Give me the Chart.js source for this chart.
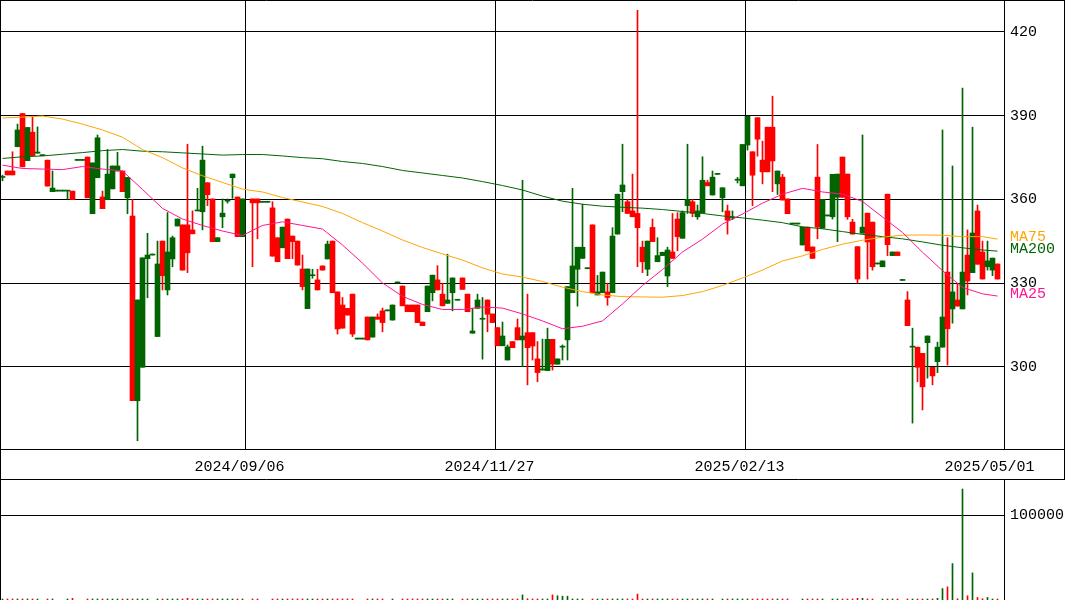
<!DOCTYPE html>
<html>
<head>
<meta charset="utf-8">
<script src="https://cdn.jsdelivr.net/npm/chart.js@4.4.1/dist/chart.umd.min.js"></script>
<style>
  html, body { margin: 0; padding: 0; background: #fff; }
  #wrap { position: relative; width: 1065px; height: 600px; overflow: hidden; background: #fff; }
  #price { position: absolute; left: 0; top: 0; width: 1065px; height: 480px; }
  #vol { position: absolute; left: 0; top: 480px; width: 1065px; height: 120px; }
</style>
</head>
<body>
<div id="wrap">
  <canvas id="price" width="1065" height="480"></canvas>
  <canvas id="vol" width="1065" height="120"></canvas>
</div>
<script>
// Daily candles, oldest first (index = trading-day slot). null = no bar.
const opens = [
  367.9,370.2,370.2,378.9,390.8,373.9,384.1,376.6,375.7,374.1, 362.8,363.0,363.0,363.0,363.0,374.0,374.0,375.2,354.9,367.8,
  360.9,360.0,363.8,370.2,370.2,360.6,354.1,287.9,299.9,338.8, 340.1,310.9,345.1,327.6,338.7,350.5,350.9,350.9,349.1,355.9,
  355.6,366.0,360.2,344.9,353.8,359.4,367.8,360.9,346.7,null, 360.2,360.2,359.0,359.0,357.0,346.3,342.7,353.0,346.9,345.1,
  335.1,320.9,332.7,331.2,336.2,338.7,345.1,326.9,322.2,321.0, 326.1,310.0,310.0,317.9,310.7,317.9,320.1,320.1,316.8,330.1,
  329.0,322.2,322.2,322.2,316.1,319.8,326.6,331.2,326.1,322.8, 326.6,323.9,331.9,326.1,312.1,321.0,317.1,324.0,319.0,314.1,
  307.6,302.5,309.1,314.1,309.7,312.3,312.3,302.9,298.9,298.7, 309.9,301.0,307.1,309.7,326.6,335.0,338.9,335.2,350.9,325.8,
  326.6,326.9,326.6,347.6,362.8,359.2,355.9,355.0,342.9,335.0, 350.0,337.7,339.9,332.6,341.2,353.0,346.1,357.8,359.2,353.8,
  355.2,366.1,361.6,369.0,360.6,355.9,353.4,366.9,364.9,379.5, 377.1,389.3,374.1,385.9,385.9,365.6,368.0,360.2,351.2,351.2,
  343.7,350.1,343.0,368.0,349.7,354.1,353.8,360.8,375.2,369.1, 351.9,343.1,347.9,355.1,351.9,336.9,335.9,361.9,339.9,341.2,
  331.0,324.0,307.1,307.1,304.9,308.7,299.9,301.9,307.1,334.0, 320.8,324.0,320.8,340.1,333.8,355.9,341.2,335.9,334.7,336.9
];
const highs = [
  368.7,370.2,377.1,387.0,390.8,385.8,389.9,386.0,375.7,374.1, 370.2,363.0,363.0,363.0,363.0,374.0,374.0,375.2,373.1,383.1,
  363.0,377.9,372.0,376.9,370.2,367.9,360.0,324.0,339.1,347.9, 340.1,345.1,345.1,355.3,346.9,353.0,350.9,379.8,355.9,364.0,
  379.1,366.0,360.2,346.3,360.2,360.2,369.1,360.9,360.2,null, 360.2,360.2,359.0,359.0,359.2,346.3,350.1,353.0,346.9,345.1,
  340.1,335.1,335.0,335.0,336.2,345.1,345.1,326.9,324.9,321.0, 326.1,310.0,310.0,317.9,317.9,319.0,321.1,320.1,322.2,330.1,
  329.0,322.2,322.2,322.2,316.1,329.0,332.9,336.3,330.0,340.4, 331.9,323.9,331.9,326.1,321.0,326.1,324.9,324.0,319.0,314.1,
  316.1,307.9,309.1,317.2,366.9,326.1,312.3,309.1,310.0,313.9, 309.9,302.9,307.9,328.8,364.0,342.9,358.3,335.2,350.9,332.8,
  334.0,330.0,349.9,361.9,379.8,360.0,369.1,427.8,345.1,345.1, 353.0,346.3,341.1,342.9,355.0,355.3,355.9,379.8,360.0,358.0,
  375.3,366.9,370.2,369.0,364.2,358.0,355.9,367.9,379.7,389.8, 377.1,389.3,380.9,385.9,397.0,370.2,369.0,360.2,351.2,351.2,
  350.1,350.1,343.0,379.7,360.0,354.1,369.0,369.1,375.2,369.1, 352.9,343.1,383.1,355.1,351.9,336.9,338.0,361.9,341.2,341.2,
  331.0,327.0,313.9,307.1,304.9,311.1,299.9,308.9,384.9,346.3, 372.0,330.0,399.9,349.1,385.9,358.0,345.1,345.1,339.0,336.9
];
const lows = [
  366.7,368.8,368.8,378.9,371.7,373.9,375.7,376.6,375.7,364.8, 362.8,363.0,363.0,360.1,360.0,374.0,374.0,360.6,354.9,367.8,
  356.7,360.0,363.8,370.2,362.8,354.9,287.9,273.6,299.9,324.8, 340.1,310.9,327.6,325.8,335.9,350.5,334.7,333.8,347.7,355.9,
  349.1,357.8,344.9,344.9,349.9,358.7,360.4,346.7,346.7,null, 335.9,345.9,359.0,359.0,339.7,337.7,342.7,338.8,338.8,336.5,
  327.6,320.9,331.8,327.6,334.7,338.7,326.6,311.8,313.9,318.6, 310.9,310.0,310.0,309.7,310.7,317.1,312.6,320.1,316.8,330.1,
  321.9,319.8,319.8,315.9,314.8,319.8,323.7,327.6,321.9,322.8, 320.1,323.9,327.8,319.8,312.1,321.0,302.8,312.6,315.9,307.6,
  307.6,302.5,306.9,309.7,300.1,293.6,302.5,294.7,298.9,298.7, 298.9,301.0,302.5,302.5,326.6,321.8,338.9,335.2,326.6,325.8,
  326.6,322.1,326.6,347.6,355.6,355.0,353.8,335.9,333.8,332.7, 344.9,337.7,339.9,328.8,338.9,341.6,346.1,355.0,353.8,352.9,
  355.2,364.9,361.6,369.0,355.6,347.6,352.8,365.9,364.9,377.7, 357.8,375.5,365.6,369.9,362.8,361.8,359.8,354.9,351.2,351.2,
  343.7,341.6,338.9,345.9,349.7,354.1,353.0,344.9,360.8,352.9, 347.6,330.0,347.9,331.5,334.7,336.9,335.9,339.9,339.9,339.9,
  331.0,314.8,279.9,294.7,284.6,296.0,293.6,298.0,307.1,300.7, 315.7,321.8,320.8,325.8,333.8,336.8,331.5,334.7,332.7,331.5
];
const closes = [
  367.9,368.8,368.8,384.9,371.7,385.8,375.7,377.0,375.7,364.8, 364.1,363.0,363.0,363.0,360.0,374.0,374.0,360.6,373.1,382.1,
  356.7,369.1,372.0,372.0,362.8,367.9,287.9,324.0,339.1,340.1, 340.1,336.9,332.7,341.2,346.3,353.0,334.7,340.9,347.7,355.9,
  374.1,361.7,344.9,346.3,355.1,359.4,369.1,346.7,360.2,null, 358.8,358.8,359.0,359.0,339.7,337.7,350.1,338.8,344.9,336.5,
  328.8,335.1,332.7,327.6,334.7,344.0,326.6,313.6,313.9,318.6, 311.8,310.0,310.0,309.7,317.9,317.1,315.9,320.1,322.2,330.1,
  321.9,319.8,319.8,315.9,314.8,329.0,332.9,327.6,321.9,324.0, 331.9,323.9,327.8,319.8,312.9,324.0,317.1,318.9,315.9,307.6,
  311.1,307.2,306.9,309.7,311.1,306.9,307.5,298.0,299.3,309.9, 301.0,302.9,307.1,328.8,336.2,342.9,342.9,335.2,326.6,326.9,
  334.0,324.9,346.9,361.9,365.2,355.0,353.8,349.9,337.7,345.1, 344.9,339.9,341.1,341.9,338.9,346.7,355.3,360.0,355.0,355.9,
  366.9,364.9,368.0,369.0,364.2,352.6,353.4,366.9,379.7,389.8, 368.7,381.6,369.9,369.9,373.8,370.2,359.8,354.9,351.2,351.2,
  350.1,341.6,338.9,350.1,360.0,354.1,369.0,369.1,360.8,353.8, 347.6,331.5,350.1,344.8,335.9,336.9,338.0,343.8,341.2,339.9,
  331.0,314.8,307.1,299.9,292.9,311.1,296.8,307.1,317.9,313.7, 326.9,321.8,334.0,330.8,348.0,336.8,331.5,338.0,339.0,331.5
];
// Daily volume (shares)
const volumes = [
  1200,1200,1200,1200,1200,1200,1200,1200,0,1200, 1200,0,0,1200,2000,0,0,1200,1200,1200,
  1200,1200,1200,1200,1200,1200,1200,1200,1200,1200, 0,1200,1200,1200,1200,1200,1200,2000,1200,1200,
  1200,1200,1200,1200,1200,1200,1200,1200,1200,null, 1200,1200,0,0,1200,1200,1200,1200,1200,1200,
  1200,1200,1200,1200,1200,1200,1200,1200,1200,1200, 1200,0,0,1200,1200,1200,1200,0,1200,0,
  1200,1200,1200,1200,1200,1200,1200,1200,1200,1200, 1200,0,1200,1200,1200,1200,1200,1200,1200,1200,
  1200,1200,1200,1200,6000,1500,1200,1200,1200,1200, 6000,5000,4500,4500,1200,1200,1200,0,1200,1200,
  1200,1200,1200,1200,1200,1200,1200,7000,1200,1200, 1200,1200,1200,1200,1200,1200,1200,1200,1200,1200,
  1200,1200,1200,0,1200,1200,1200,1200,1200,1200, 1200,1200,1200,1200,1200,1200,1200,1200,0,0,
  1200,1200,1200,1200,1200,0,1200,1200,1200,1200, 1200,2000,2000,1200,1200,0,1200,1200,1200,1200,
  0,1200,1200,1200,1200,1200,1200,2000,13500,15500, 43000,1500,131000,5000,32000,3000,1500,3000,1200,1200
];

// Moving averages, sampled every 4 trading days (plus the last day)
const maDays = [
  0,4,8,12,16,20,24,28,32,36, 40,44,48,52,56,60,64,68,72,76,
  80,84,88,92,96,100,104,108,112,116, 120,124,128,132,136,140,144,148,152,156,
  160,164,168,172,176,180,184,188,192,196, 199
];
const ma25 = [
  372.3,371.1,370.9,370.7,371.8,370.9,370.2,363.6,356.8,353.0, 350.7,348.7,347.1,350.7,352.0,350.7,349.4,343.7,337.2,330.1,
  325.3,322.4,320.6,320.6,321.5,321.1,319.0,316.5,313.7,314.6, 316.5,322.6,329.2,334.9,341.2,345.8,351.2,354.8,358.7,361.9,
  364.0,362.7,361.9,359.3,353.7,348.2,341.1,334.5,328.5,326.2, 325.4
];
const ma75 = [
  389.2,389.5,389.9,388.8,387.0,384.9,382.3,377.9,375.0,371.3, 368.5,366.1,363.7,362.7,360.7,359.1,357.5,355.0,351.7,348.7,
  345.5,342.8,340.5,338.3,335.5,333.3,332.2,330.6,328.6,327.0, 325.8,325.2,325.1,325.0,325.6,327.0,329.2,331.9,334.7,338.0,
  339.8,342.1,344.0,345.4,346.5,347.2,347.3,347.2,346.7,346.7, 345.8
];
const ma200 = [
  374.7,375.3,375.6,376.2,376.8,377.5,377.9,377.3,377.1,376.7, 376.3,375.9,376.1,376.1,375.6,375.0,374.6,373.6,372.9,371.8,
  370.4,369.5,368.6,367.7,366.4,365.0,363.4,361.2,359.4,358.3, 357.6,357.2,356.9,356.4,355.7,355.0,354.1,353.4,352.6,351.7,
  350.2,349.5,348.5,347.5,346.7,345.9,344.8,343.6,342.7,341.9, 341.5
];

// Axis ticks and date labels
const priceTicks = [300, 330, 360, 390, 420];
const volumeTicks = [100000];
const dateLabels = ['2024/09/06', '2024/11/27', '2025/02/13', '2025/05/01'];
const dateDays = [48, 98, 148, 198];
const gridDays = [48, 98, 148];

const UP = '#006400';
const DOWN = '#ff0000';
const C25 = '#ff1493';
const C75 = '#ffa500';
const C200 = '#006400';

Chart.defaults.font.family = "'Liberation Mono', 'DejaVu Sans Mono', monospace";
Chart.defaults.font.size = 15;
Chart.defaults.color = '#000';

const days = opens.map((_, i) => i).filter(i => opens[i] !== null);
const colorOf = i => (closes[i] >= opens[i] ? UP : DOWN);
const candleColors = days.map(colorOf);

const xRange = { type: 'linear', min: -0.5, max: 200.3, offset: false };
const fixTicks = list => scale => { scale.ticks = list.map(v => ({ value: v })); };
const noPad = s => { s.paddingTop = 0; s.paddingBottom = 0; s.paddingLeft = 0; s.paddingRight = 0; };

// Frame, day separators and MA captions
const pricePlugin = {
  id: 'priceDecor',
  beforeDatasetsDraw(chart) {
    const { ctx, chartArea, scales } = chart;
    ctx.save();
    ctx.strokeStyle = '#000';
    ctx.lineWidth = 1;
    gridDays.forEach(d => {
      const x = Math.round(scales.x.getPixelForValue(d + 0.5)) + 0.5;
      ctx.beginPath();
      ctx.moveTo(x, chartArea.top);
      ctx.lineTo(x, chartArea.bottom);
      ctx.stroke();
    });
    ctx.restore();
  },
  afterDraw(chart) {
    const { ctx, chartArea, scales, width, height } = chart;
    ctx.save();
    ctx.strokeStyle = '#000';
    ctx.lineWidth = 1;
    ctx.beginPath();
    ctx.moveTo(0, 0.5); ctx.lineTo(width, 0.5);
    ctx.moveTo(0.5, 0); ctx.lineTo(0.5, height);
    ctx.moveTo(width - 0.5, 0); ctx.lineTo(width - 0.5, height);
    ctx.moveTo(0, chartArea.bottom + 0.5); ctx.lineTo(width, chartArea.bottom + 0.5);
    ctx.moveTo(0, height - 0.5); ctx.lineTo(width, height - 0.5);
    ctx.stroke();

    ctx.font = Chart.defaults.font.size + 'px ' + Chart.defaults.font.family;
    ctx.textAlign = 'left';
    ctx.textBaseline = 'middle';
    const x = chartArea.right + 6;
    [['MA75', ma75, C75], ['MA200', ma200, C200], ['MA25', ma25, C25]].forEach(([name, arr, col]) => {
      ctx.fillStyle = col;
      ctx.fillText(name, x, scales.y.getPixelForValue(arr[arr.length - 1]) - 2);
    });
    ctx.restore();
  }
};

const maLine = (label, arr, color) => ({
  type: 'line',
  label,
  data: maDays.map((d, j) => ({ x: d, y: arr[j] })),
  borderColor: color,
  borderWidth: 1,
  pointRadius: 0,
  tension: 0,
  fill: false,
  order: 0
});

new Chart(document.getElementById('price'), {
  type: 'bar',
  data: {
    datasets: [
      maLine('MA25', ma25, C25),
      maLine('MA75', ma75, C75),
      maLine('MA200', ma200, C200),
      {
        label: 'body',
        data: days.map(i => ({ x: i, y: [opens[i], closes[i]] })),
        backgroundColor: candleColors,
        borderWidth: 0,
        barThickness: 5,
        minBarLength: 1,
        grouped: false,
        order: 1
      },
      {
        label: 'wick',
        data: days.map(i => ({ x: i, y: [lows[i], highs[i]] })),
        backgroundColor: candleColors,
        borderWidth: 0,
        barThickness: 1,
        minBarLength: 1,
        grouped: false,
        order: 2
      }
    ]
  },
  options: {
    responsive: false,
    animation: false,
    events: [],
    layout: { padding: 0 },
    plugins: { legend: { display: false }, tooltip: { enabled: false } },
    scales: {
      x: {
        ...xRange,
        grid: { display: false },
        border: { display: true, color: '#000' },
        ticks: {
          autoSkip: false,
          maxRotation: 0,
          padding: 1,
          labelOffset: -3,
          callback: v => dateLabels[dateDays.indexOf(v)] || ''
        },
        afterBuildTicks: fixTicks(dateDays),
        afterFit: s => { s.height = 31; noPad(s); }
      },
      y: {
        position: 'right',
        min: 270.62,
        max: 431.46,
        grid: { color: '#000', drawTicks: false },
        border: { display: true, color: '#000' },
        ticks: { padding: 6, callback: v => String(v) },
        afterBuildTicks: fixTicks(priceTicks),
        afterFit: s => { s.width = 61; noPad(s); }
      }
    }
  },
  plugins: [pricePlugin]
});

const volPlugin = {
  id: 'volDecor',
  afterDraw(chart) {
    const { ctx, height } = chart;
    ctx.save();
    ctx.strokeStyle = '#000';
    ctx.lineWidth = 1;
    ctx.beginPath();
    ctx.moveTo(0.5, 0); ctx.lineTo(0.5, height);
    ctx.stroke();
    ctx.restore();
  }
};

const volDays = days.filter(i => volumes[i] > 0);
new Chart(document.getElementById('vol'), {
  type: 'bar',
  data: {
    datasets: [{
      label: 'volume',
      data: volDays.map(i => ({ x: i, y: volumes[i] })),
      backgroundColor: volDays.map(colorOf),
      borderWidth: 0,
      barThickness: 1,
      grouped: false
    }]
  },
  options: {
    responsive: false,
    animation: false,
    events: [],
    layout: { padding: 0 },
    plugins: { legend: { display: false }, tooltip: { enabled: false } },
    scales: {
      x: { ...xRange, display: false },
      y: {
        position: 'right',
        min: 0,
        max: 141677,
        grid: { color: '#000', drawTicks: false },
        border: { display: true, color: '#000' },
        ticks: { padding: 6, callback: v => String(v) },
        afterBuildTicks: fixTicks(volumeTicks),
        afterFit: s => { s.width = 61; noPad(s); }
      }
    }
  },
  plugins: [volPlugin]
});
</script>
</body>
</html>
